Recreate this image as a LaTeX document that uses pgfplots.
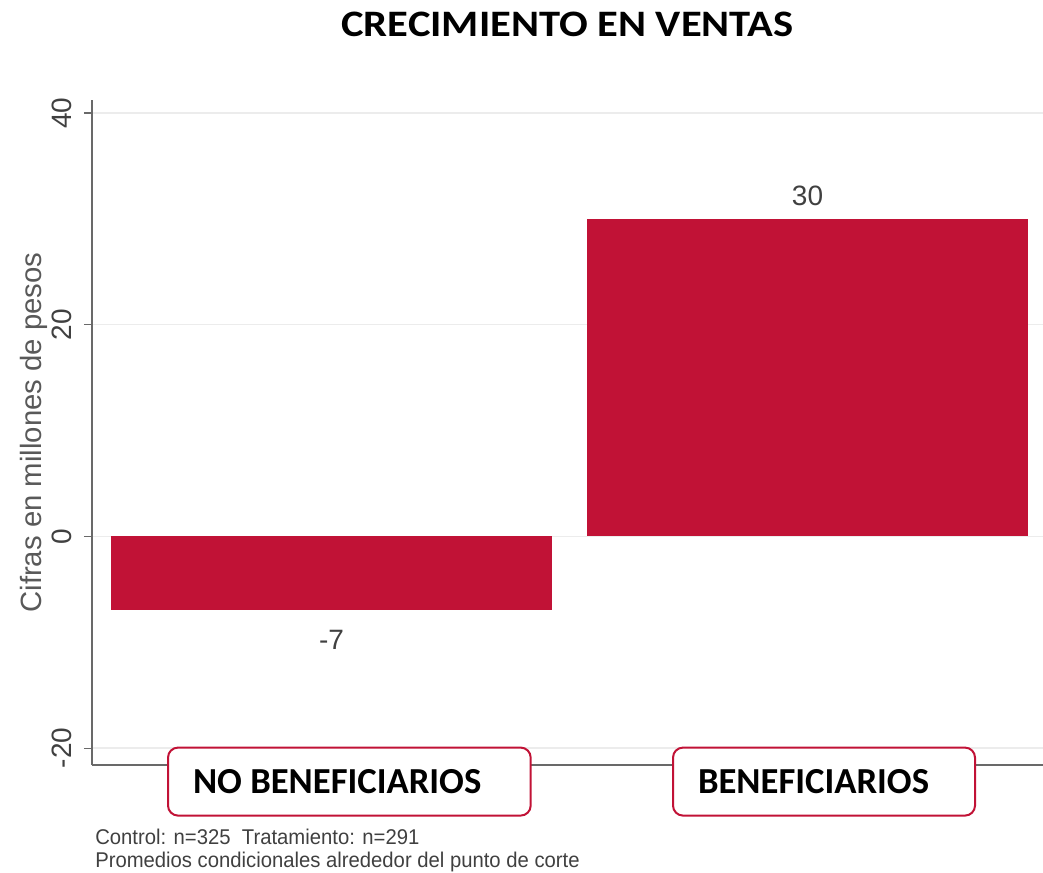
\documentclass[border=0pt]{standalone}
\usepackage{fontspec}
\setmainfont{Liberation Sans}
\newfontfamily\calibri{Carlito}
\usepackage{graphicx}
\usepackage{pgfplots}
\pgfplotsset{compat=1.18}
\definecolor{barred}{RGB}{193,18,54}
\definecolor{axgray}{RGB}{105,105,105}
\definecolor{gridgray}{RGB}{236,236,236}
\begin{document}
\begin{tikzpicture}
\useasboundingbox (0,0) rectangle (782.25pt,-654.75pt);
\begin{axis}[
 at={(69pt,-573.75pt)}, anchor=south west,
 scale only axis, width=713.25pt, height=498.75pt,
 xmin=-0.5032, xmax=1.4947, ymin=-21.6, ymax=41.23,
 axis x line*=bottom, axis y line*=left,
 axis line style={axgray, line width=1pt},
 xtick=\empty,
 ytick={-20,0,20,40},
 ymajorgrids, grid style={gridgray, line width=1pt},
 tick align=outside, major tick length=6pt,
 tick style={axgray, line width=0.8pt},
 /pgf/number format/assume math mode=true,
 yticklabel style={xshift=-8.6pt, rotate=90, anchor=south, font=\fontsize{21}{21}\selectfont, text=black!75, inner sep=0pt},
 ylabel={Cifras en millones de pesos},
 every axis y label/.style={at={(axis description cs:-0.061,0.5)}, rotate=90, anchor=center, font=\fontsize{22}{22}\selectfont, text=black!65},
 ybar, bar shift=0pt, bar width=0.926,
 clip=false,
]
\addplot[fill=barred, draw=none,
  nodes near coords={\pgfmathprintnumber[assume math mode=true]{\pgfplotspointmeta}},
  every node near coord/.style={anchor=north, inner sep=0pt, yshift=-14.25pt, font=\fontsize{21}{21}\selectfont, text=black!75}]
  coordinates {(0,-7)};
\addplot[fill=barred, draw=none,
  nodes near coords={\pgfmathprintnumber[assume math mode=true]{\pgfplotspointmeta}},
  every node near coord/.style={anchor=south, inner sep=0pt, yshift=9.75pt, font=\fontsize{21}{21}\selectfont, text=black!75}]
  coordinates {(1,30)};
\node[draw=barred, line width=1.5pt, rounded corners=7.5pt, fill=white, anchor=north west,
  inner xsep=18.75pt, inner ysep=0pt, minimum height=51pt, font=\calibri\bfseries\fontsize{27.5}{27.5}\selectfont]
  at (axis cs:-0.3456,-19.86) {\makebox[234.5pt][l]{NO BENEFICIARIOS}};
\node[draw=barred, line width=1.5pt, rounded corners=7.5pt, fill=white, anchor=north west,
  inner xsep=18.75pt, inner ysep=0pt, minimum height=51pt, font=\calibri\bfseries\fontsize{27.5}{27.5}\selectfont]
  at (axis cs:0.7153,-19.86) {\makebox[189pt][l]{BENEFICIARIOS}};
\end{axis}
\node[anchor=base, font=\calibri\bfseries\fontsize{28}{28}\selectfont, inner sep=0pt] at (425.6pt,-27.75pt) {\scalebox{1.14}[1]{CRECIMIENTO EN VENTAS}};
\node[anchor=base west, inner sep=0pt, font=\fontsize{16}{16}\selectfont, text=black!75] at (71.25pt,-633pt) {\scalebox{0.95}[1]{Control: n=325\ \ Tratamiento: n=291}};
\node[anchor=base west, inner sep=0pt, font=\fontsize{16}{16}\selectfont, text=black!75] at (71.25pt,-650.25pt) {\scalebox{0.95}[1]{Promedios condicionales alrededor del punto de corte}};
\end{tikzpicture}
\end{document}
